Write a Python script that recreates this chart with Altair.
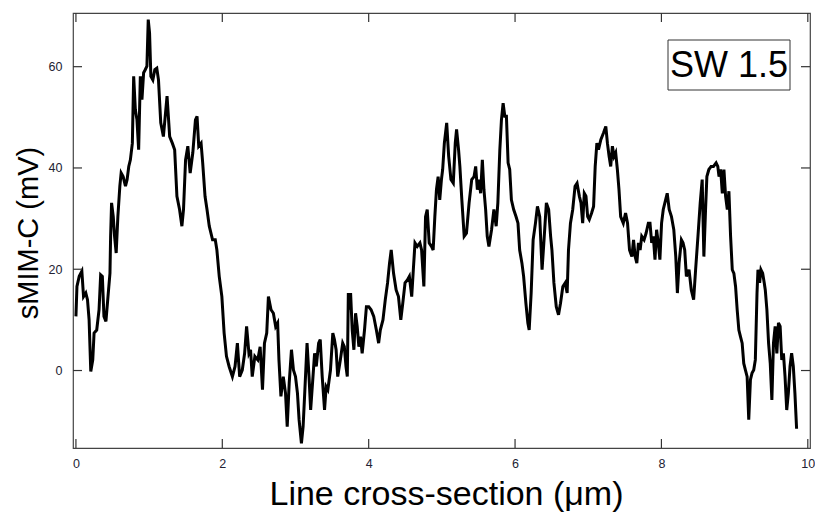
import altair as alt
import pandas as pd

# Line cross-section position (µm) and sMIM-C signal (mV)
x_um = [0.000, 0.014, 0.045, 0.081, 0.104, 0.135, 0.158, 0.180, 0.203, 0.230, 0.248, 0.284, 0.316, 0.338, 0.361,
        0.383, 0.410, 0.438, 0.465, 0.474, 0.487, 0.510, 0.528, 0.550, 0.573, 0.600, 0.618, 0.645, 0.677, 0.699,
        0.722, 0.744, 0.771, 0.789, 0.812, 0.834, 0.857, 0.880, 0.902, 0.925, 0.947, 0.970, 0.988, 1.006, 1.024,
        1.051, 1.078, 1.105, 1.128, 1.159, 1.195, 1.245, 1.281, 1.317, 1.349, 1.380, 1.416, 1.448, 1.470, 1.498,
        1.529, 1.561, 1.597, 1.633, 1.655, 1.678, 1.710, 1.732, 1.764, 1.791, 1.822, 1.867, 1.904, 1.926, 1.958,
        1.994, 2.025, 2.057, 2.093, 2.138, 2.174, 2.206, 2.237, 2.273, 2.305, 2.332, 2.364, 2.386, 2.409, 2.445,
        2.485, 2.517, 2.549, 2.576, 2.607, 2.630, 2.666, 2.698, 2.729, 2.756, 2.774, 2.801, 2.833, 2.864, 2.887,
        2.914, 2.945, 2.972, 3.000, 3.027, 3.049, 3.081, 3.104, 3.126, 3.158, 3.185, 3.207, 3.239, 3.261, 3.284,
        3.316, 3.338, 3.365, 3.397, 3.419, 3.442, 3.478, 3.510, 3.532, 3.555, 3.577, 3.613, 3.645, 3.667, 3.690,
        3.708, 3.722, 3.735, 3.753, 3.775, 3.798, 3.821, 3.843, 3.866, 3.888, 3.911, 3.943, 3.969, 4.001, 4.033,
        4.069, 4.105, 4.136, 4.159, 4.195, 4.227, 4.258, 4.285, 4.308, 4.340, 4.375, 4.407, 4.439, 4.466, 4.497,
        4.529, 4.556, 4.588, 4.610, 4.633, 4.664, 4.700, 4.723, 4.754, 4.777, 4.800, 4.827, 4.858, 4.881, 4.904,
        4.926, 4.949, 4.971, 4.994, 5.011, 5.034, 5.066, 5.093, 5.124, 5.156, 5.183, 5.201, 5.228, 5.246, 5.273,
        5.305, 5.336, 5.372, 5.408, 5.440, 5.462, 5.485, 5.507, 5.530, 5.553, 5.575, 5.598, 5.620, 5.643, 5.679,
        5.711, 5.742, 5.765, 5.792, 5.814, 5.837, 5.860, 5.882, 5.905, 5.927, 5.950, 5.981, 6.013, 6.040, 6.063,
        6.094, 6.117, 6.148, 6.175, 6.193, 6.220, 6.247, 6.279, 6.306, 6.337, 6.369, 6.396, 6.428, 6.459, 6.486,
        6.504, 6.531, 6.563, 6.594, 6.621, 6.653, 6.685, 6.712, 6.730, 6.757, 6.788, 6.820, 6.847, 6.879, 6.901,
        6.924, 6.946, 6.969, 6.992, 7.014, 7.046, 7.073, 7.095, 7.118, 7.140, 7.172, 7.208, 7.240, 7.262, 7.285,
        7.307, 7.330, 7.353, 7.375, 7.398, 7.420, 7.443, 7.479, 7.510, 7.537, 7.564, 7.596, 7.619, 7.641, 7.664,
        7.686, 7.709, 7.731, 7.763, 7.790, 7.821, 7.844, 7.867, 7.889, 7.912, 7.934, 7.957, 7.979, 8.002, 8.025,
        8.047, 8.079, 8.106, 8.137, 8.169, 8.196, 8.218, 8.241, 8.273, 8.295, 8.318, 8.341, 8.377, 8.408, 8.440,
        8.467, 8.499, 8.530, 8.557, 8.580, 8.603, 8.621, 8.648, 8.679, 8.711, 8.747, 8.770, 8.787, 8.809, 8.832,
        8.854, 8.877, 8.900, 8.922, 8.945, 8.968, 8.990, 9.013, 9.035, 9.058, 9.080, 9.103, 9.125, 9.148, 9.171,
        9.193, 9.216, 9.238, 9.261, 9.283, 9.306, 9.319, 9.342, 9.360, 9.383, 9.405, 9.419, 9.441, 9.464, 9.487,
        9.509, 9.531, 9.554, 9.577, 9.599, 9.622, 9.644, 9.667, 9.689, 9.712, 9.734, 9.757, 9.779, 9.802, 9.824,
        9.847]
smim_mv = [10.7, 16.6, 18.6, 19.6, 14.6, 15.3, 14.0, 10.0, -0.2, 2.1, 7.4, 8.0, 12.0, 18.9, 18.6,
           10.7, 9.7, 14.6, 19.2, 26.5, 33.1, 30.4, 26.5, 23.2, 30.4, 36.4, 39.0, 38.3, 36.4, 37.7,
           40.3, 41.6, 44.9, 58.1, 51.5, 49.5, 43.6, 58.1, 53.5, 58.8, 59.4, 60.1, 69.3, 66.7, 58.1,
           57.4, 59.4, 59.7, 57.4, 48.9, 46.2, 54.2, 46.2, 44.9, 43.6, 34.4, 31.8, 28.5, 31.8, 41.6,
           44.3, 39.0, 43.0, 49.5, 50.2, 44.3, 44.9, 41.0, 34.4, 31.8, 28.5, 25.8, 25.8, 23.8, 18.6,
           14.6, 7.4, 2.8, 0.8, -1.2, 0.8, 5.4, -1.2, 0.1, 3.4, 8.7, 3.4, 4.1, -1.2, 2.8,
           2.1, 4.7, -3.8, 5.4, 7.4, 14.6, 12.0, 11.3, 8.7, 9.4, 2.1, -5.1, -1.2, -4.5, -11.1,
           -2.5, 4.1, 0.1, -1.2, -4.5, -9.7, -14.4, -11.1, -4.5, 5.4, -1.2, -7.8, -1.2, 3.4, 0.8,
           5.4, 6.1, -1.2, -7.8, -3.2, -3.8, 0.1, 7.4, 6.1, 4.1, -1.2, 2.1, 5.4, 4.7, 0.8,
           -1.2, 15.3, 12.0, 15.3, 8.0, 4.1, 11.3, 8.7, 4.7, 6.7, 3.4, 8.0, 12.6, 12.6, 12.0,
           10.7, 8.0, 5.4, 8.0, 10.0, 14.0, 17.3, 21.2, 23.8, 19.2, 15.9, 14.6, 10.0, 13.3, 17.3,
           17.9, 18.6, 14.6, 19.9, 25.2, 24.5, 25.2, 23.8, 16.6, 30.4, 31.8, 25.2, 24.5, 23.8, 30.4,
           35.7, 38.3, 33.7, 37.7, 39.7, 44.9, 48.9, 42.3, 37.7, 37.0, 44.9, 47.6, 43.6, 40.3, 33.7,
           26.5, 27.1, 33.1, 37.7, 38.3, 40.3, 35.7, 37.7, 35.0, 41.6, 35.7, 31.8, 26.5, 24.5, 27.8,
           31.8, 28.5, 33.1, 43.6, 49.5, 52.8, 50.2, 50.2, 41.0, 39.7, 33.7, 31.8, 30.4, 29.1, 23.8,
           21.2, 18.6, 13.3, 9.4, 8.0, 15.3, 25.8, 29.1, 32.4, 30.4, 19.9, 25.8, 33.1, 31.8, 26.5,
           23.8, 17.3, 12.6, 11.0, 13.3, 16.6, 17.3, 15.3, 23.8, 29.1, 31.8, 36.4, 37.0, 34.4, 33.1,
           29.1, 35.0, 34.4, 30.4, 29.8, 31.1, 32.4, 40.3, 44.9, 43.6, 45.6, 46.9, 48.2, 44.9, 42.3,
           40.3, 44.3, 42.3, 43.0, 39.7, 35.7, 30.4, 29.1, 31.1, 29.1, 23.8, 22.5, 25.8, 22.5, 21.2,
           25.2, 23.8, 26.5, 25.8, 27.1, 29.1, 29.1, 25.2, 26.5, 21.9, 27.8, 25.2, 21.9, 29.1, 31.8,
           33.1, 35.0, 31.8, 30.4, 27.8, 22.5, 15.3, 21.2, 25.8, 25.2, 23.8, 18.6, 19.9, 15.9, 14.0,
           19.9, 26.5, 33.1, 37.7, 22.5, 31.8, 38.3, 39.7, 40.3, 40.3, 41.0, 40.3, 38.3, 39.7, 35.0,
           39.7, 34.4, 31.8, 35.4, 26.5, 19.9, 19.2, 16.6, 12.0, 8.0, 6.7, 5.4, 1.4, 0.1, -1.2,
           -9.7, -1.8, -0.5, 0.1, 2.1, 15.3, 19.9, 17.3, 19.9, 19.2, 17.3, 15.9, 12.0, 5.4, 1.4,
           -5.8, 5.4, 8.7, 3.4, 9.4, 8.7, 2.1, 3.4, -1.2, -7.8, -4.5, 0.8, 3.4, 0.8, -4.5,
           -11.5]

x_ticks = [0, 2, 4, 6, 8, 10]
y_ticks = [0, 20, 40, 60]
x_domain = [-0.04, 10.03]
y_domain = [-15.3, 70.6]
annotation = "SW 1.5"
x_title = "Line cross-section (μm)"
y_title = "sMIM-C (mV)"

W, H = 737, 435
TICK = 9

df = pd.DataFrame({"x": x_um, "y": smim_mv})
xt = pd.DataFrame({"x": x_ticks})
yt = pd.DataFrame({"y": y_ticks})

label_font = "Liberation Sans Narrow, Arial Narrow, Liberation Sans, sans-serif"
title_font = "Liberation Sans, Arial, sans-serif"

xscale = alt.Scale(domain=x_domain, nice=False, zero=False)
yscale = alt.Scale(domain=y_domain, nice=False, zero=False)

xaxis = alt.Axis(values=x_ticks, format="d", ticks=False, domain=False, grid=False, labelPadding=9,
                 labelFont=label_font, labelFontSize=12.5, labelColor="#222233",
                 title=x_title, titleFont=title_font, titleFontSize=34, titleFontWeight="normal",
                 titleColor="#000000", titleBaseline="alphabetic", titleY=56, titleX=373)
yaxis = alt.Axis(values=y_ticks, format="d", ticks=False, domain=False, grid=False, labelPadding=11,
                 labelFont=label_font, labelFontSize=12.5, labelColor="#222233",
                 title=y_title, titleFont=title_font, titleFontSize=29, titleFontWeight="normal",
                 titleColor="#000000", titleBaseline="middle", titleX=-45, titleY=H / 2 + 2)

line = alt.Chart(df).mark_line(color="#000000", strokeWidth=3, clip=True).encode(
    x=alt.X("x:Q", scale=xscale, axis=xaxis),
    y=alt.Y("y:Q", scale=yscale, axis=yaxis),
)

tick_style = dict(color="#333333", strokeWidth=1.2)
xb = alt.Chart(xt).mark_rule(**tick_style).encode(
    x=alt.X("x:Q", scale=xscale), y=alt.value(H), y2=alt.value(H - TICK))
xtop = alt.Chart(xt).mark_rule(**tick_style).encode(
    x=alt.X("x:Q", scale=xscale), y=alt.value(0), y2=alt.value(TICK))
yl = alt.Chart(yt).mark_rule(**tick_style).encode(
    y=alt.Y("y:Q", scale=yscale), x=alt.value(0), x2=alt.value(TICK))
yr = alt.Chart(yt).mark_rule(**tick_style).encode(
    y=alt.Y("y:Q", scale=yscale), x=alt.value(W), x2=alt.value(W - TICK))

ann = pd.DataFrame({"t": [annotation]})
box = alt.Chart(ann).mark_rect(fill="white", stroke="#333333", strokeWidth=1).encode(
    x=alt.value(595), x2=alt.value(717), y=alt.value(27), y2=alt.value(77))
label = alt.Chart(ann).mark_text(font=title_font, fontSize=36, color="#000000", align="center",
                                 baseline="middle").encode(
    x=alt.value(656), y=alt.value(53), text="t:N")

chart = alt.layer(line, xb, xtop, yl, yr, box, label).properties(
    width=W, height=H,
    autosize=alt.AutoSizeParams(type="none"),
    padding={"left": 65, "top": 5, "right": 5, "bottom": 66},
    background="white",
).configure_view(stroke="#444444", strokeWidth=1.2)

chart.save("out.html", embed_options={"renderer": "svg", "actions": False})
